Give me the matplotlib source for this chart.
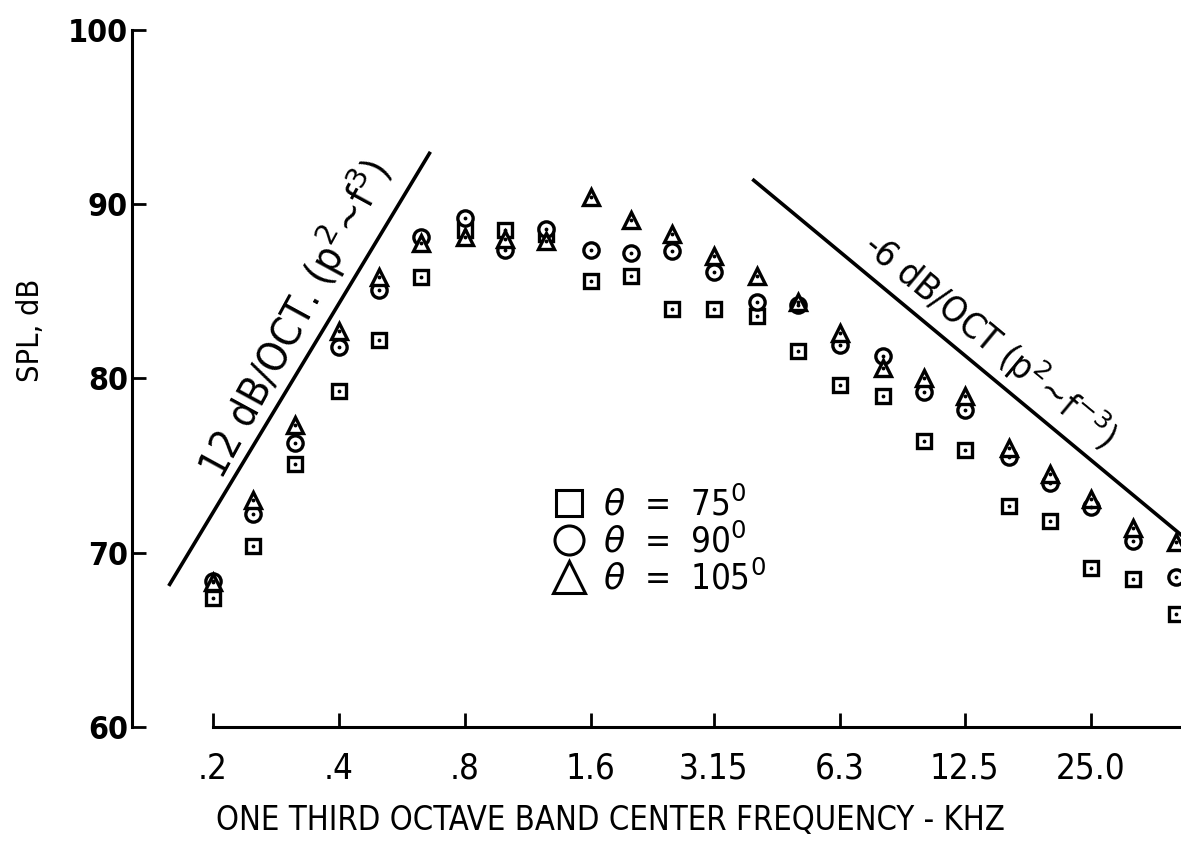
import numpy as np
import matplotlib.pyplot as plt
from matplotlib.lines import Line2D

# one-third octave band centre frequencies, kHz
band_khz = [0.2, 0.25, 0.315, 0.4, 0.5, 0.63, 0.8, 1.0, 1.25, 1.6, 2.0, 2.5,
            3.15, 4.0, 5.0, 6.3, 8.0, 10.0, 12.5, 16.0, 20.0, 25.0, 31.5, 40.0]

# SPL at three polar angles, dB
spl_75 = [67.4, 70.4, 75.1, 79.3, 82.2, 85.8, 88.5, 88.5, 88.3, 85.6, 85.9, 84.0,
          84.0, 83.6, 81.6, 79.6, 79.0, 76.4, 75.9, 72.7, 71.8, 69.1, 68.5, 66.5]
spl_90 = [68.4, 72.2, 76.3, 81.8, 85.1, 88.1, 89.2, 87.4, 88.6, 87.4, 87.2, 87.3,
          86.1, 84.4, 84.2, 81.9, 81.3, 79.2, 78.2, 75.5, 74.0, 72.6, 70.7, 68.6]
spl_105 = [68.3, 73.0, 77.3, 82.7, 85.8, 87.8, 88.1, 88.0, 87.9, 90.4, 89.1, 88.3,
           87.0, 85.9, 84.4, 82.6, 80.6, 80.0, 79.0, 76.0, 74.5, 73.1, 71.4, 70.6]

tick_khz = [0.2, 0.4, 0.8, 1.6, 3.15, 6.3, 12.5, 25.0]
tick_labels = ['.2', '.4', '.8', '1.6', '3.15', '6.3', '12.5', '25.0']

# reference slopes (dB per octave) through an anchor point
rise_slope = 12
rise_anchor = (0.3224, 80.55)
rise_span = (0.157, 0.662)
fall_slope = -6
fall_anchor = (12.84, 81.1)
fall_span = (3.89, 48.0)

narrow = dict(family='DejaVu Sans', stretch='condensed')

fig = plt.figure(figsize=(11.81, 8.41), dpi=100)
ax = fig.add_axes([0.1118, 0.1356, 0.8882, 0.8288])
ax.set_xscale('log')
ax.set_xlim(0.1283, 41.1)
ax.set_ylim(60, 100)

series = [(spl_75, 's', 10), (spl_90, 'o', 11), (spl_105, '^', 12)]
for values, marker, size in series:
    ax.plot(band_khz, values, linestyle='none', marker=marker, ms=size,
            mfc='white', mec='black', mew=2.4, clip_on=False, zorder=3)
    ax.plot(band_khz, values, linestyle='none', marker='.', ms=3.5,
            color='black', clip_on=False, zorder=4)


def slope_line(slope, anchor, span):
    f = np.array(span)
    return f, anchor[1] + slope * np.log2(f / anchor[0])


def line_angle(f, db):
    p = ax.transData.transform(np.column_stack([f, db]))
    d = p[1] - p[0]
    return np.degrees(np.arctan2(d[1], d[0]))


rise_f, rise_db = slope_line(rise_slope, rise_anchor, rise_span)
fall_f, fall_db = slope_line(fall_slope, fall_anchor, fall_span)
ax.plot(rise_f, rise_db, color='black', lw=2.6, solid_capstyle='butt')
ax.plot(fall_f, fall_db, color='black', lw=2.6, solid_capstyle='butt')


def slope_label(text, f_c, slope, anchor, angle, dist, size, tilt=0):
    db_c = anchor[1] + slope * np.log2(f_c / anchor[0])
    a = np.radians(angle)
    ax.annotate(text, xy=(f_c, db_c),
                xytext=(-np.sin(a) * dist, np.cos(a) * dist),
                textcoords='offset points', rotation=angle + tilt,
                rotation_mode='anchor', ha='center', va='baseline',
                fontsize=size, **narrow)


slope_label(r'12 dB/OCT. (p$^2$~f$^3$)', 0.362, rise_slope, rise_anchor,
            line_angle(rise_f, rise_db), 11, 29.5, tilt=2.5)
slope_label(r'-6 dB/OCT (p$^2$~f$^{-3}$)', 13.0, fall_slope, fall_anchor,
            line_angle(fall_f, fall_db), 11, 26)

# axes styling
for side in ['top', 'right']:
    ax.spines[side].set_visible(False)
ax.spines['left'].set_linewidth(2.2)
ax.spines['bottom'].set_linewidth(2.2)
ax.spines['bottom'].set_bounds(0.2, 41.1)

ax.set_xticks(tick_khz)
ax.set_xticklabels(tick_labels)
ax.xaxis.set_minor_locator(plt.NullLocator())
ax.set_yticks([60, 70, 80, 90, 100])
ax.tick_params(axis='both', direction='in', length=10, width=2)
ax.tick_params(axis='x', pad=18)
ax.tick_params(axis='y', pad=3)
for lbl in ax.get_xticklabels():
    lbl.set_fontfamily(narrow['family'])
    lbl.set_fontstretch(narrow['stretch'])
    lbl.set_fontsize(25)
for lbl in ax.get_yticklabels():
    lbl.set_fontfamily(narrow['family'])
    lbl.set_fontstretch(narrow['stretch'])
    lbl.set_fontweight('bold')
    lbl.set_fontsize(23)

fig.text(0.5165, 0.024, 'ONE THIRD OCTAVE BAND CENTER FREQUENCY - KHZ',
         ha='center', va='center', fontsize=23.5, **narrow)
fig.text(0.026, 0.607, 'SPL, dB', rotation=90, ha='center', va='center',
         fontsize=22, **narrow)

handles = [Line2D([], [], linestyle='none', marker=m, ms=s * 1.9,
                  mfc='white', mec='black', mew=2.2)
           for (_, m, s) in series]
labels = [r'$\theta$  =  75$^0$', r'$\theta$  =  90$^0$', r'$\theta$  =  105$^0$']
leg = ax.legend(handles, labels, loc='upper left', bbox_to_anchor=(0.37, 0.39),
                frameon=False, handlelength=1.0, handletextpad=0.5,
                labelspacing=0.02, prop=dict(size=25, **narrow))

fig.savefig('out.png', dpi=100)
